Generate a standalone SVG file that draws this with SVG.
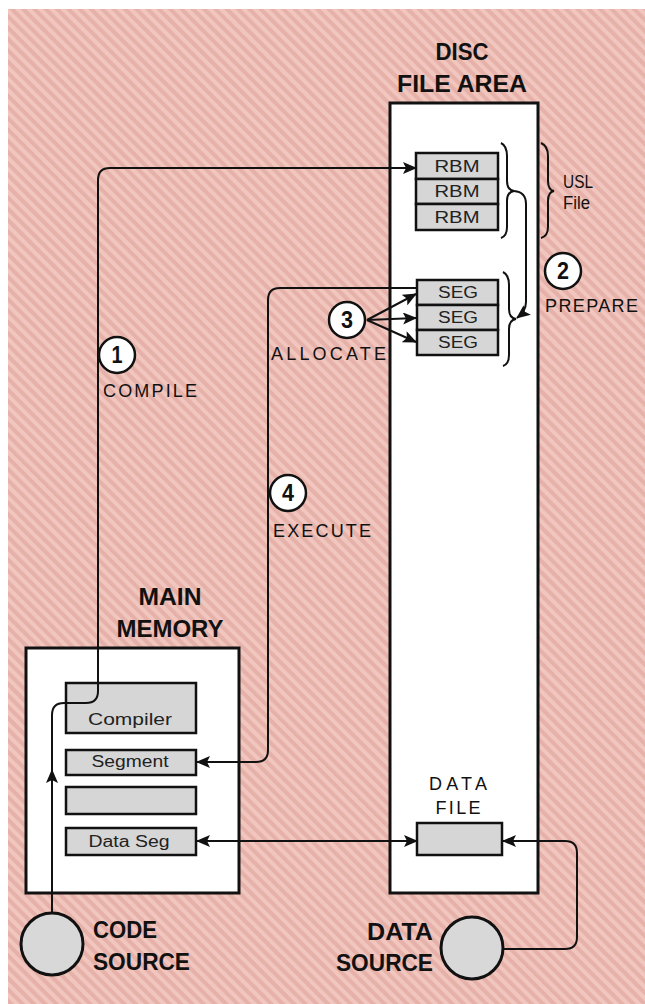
<svg xmlns="http://www.w3.org/2000/svg" width="645" height="1004" viewBox="0 0 645 1004">
<defs>
<pattern id="stripes" width="8" height="8" patternUnits="userSpaceOnUse" patternTransform="rotate(-45)">
<rect width="8" height="8" fill="#f0c6be"/>
<rect width="4" height="8" fill="#e6b1a9"/>
</pattern>
<marker id="arr" markerUnits="userSpaceOnUse" markerWidth="14" markerHeight="12" refX="13" refY="6" orient="auto">
<path d="M0,0 L14,6 L0,12 L3,6 Z" fill="#111"/>
</marker>
<style>
.box{fill:#fff;stroke:#111;stroke-width:3}
.cell{fill:#d6d6d6;stroke:#111;stroke-width:2.5}
.src{fill:#d8d8d8;stroke:#111;stroke-width:3}
.num{fill:#fff;stroke:#111;stroke-width:2.5}
.ln{fill:none;stroke:#111;stroke-width:2}
.title{font-family:"Liberation Sans",Arial,sans-serif;font-weight:bold;font-size:24px;fill:#111}
.lbl{font-family:"Liberation Sans",Arial,sans-serif;font-size:18px;fill:#111}
.cl{font-family:"Liberation Sans",Arial,sans-serif;font-size:16px;fill:#222}
.dg{font-family:"Liberation Sans",Arial,sans-serif;font-weight:bold;font-size:23px;fill:#111}
</style>
</defs>
<rect width="645" height="1004" fill="#fff"/>
<rect x="8" y="9" width="637" height="995" fill="url(#stripes)"/>

<g id="disc-file-area">
<text class="title" x="462" y="60" text-anchor="middle" textLength="53" lengthAdjust="spacingAndGlyphs">DISC</text>
<text class="title" x="462" y="92" text-anchor="middle" textLength="130" lengthAdjust="spacingAndGlyphs">FILE AREA</text>
<rect class="box" x="390" y="103" width="148" height="790"/>
</g>

<g id="rbm">
<rect class="cell" x="416" y="153" width="82" height="26"/>
<rect class="cell" x="416" y="179" width="82" height="25"/>
<rect class="cell" x="416" y="204" width="82" height="26"/>
<text class="cl" x="457" y="172" text-anchor="middle" textLength="45" lengthAdjust="spacingAndGlyphs">RBM</text>
<text class="cl" x="457" y="197" text-anchor="middle" textLength="45" lengthAdjust="spacingAndGlyphs">RBM</text>
<text class="cl" x="457" y="223" text-anchor="middle" textLength="45" lengthAdjust="spacingAndGlyphs">RBM</text>
</g>

<g id="seg">
<rect class="cell" x="417" y="280" width="81" height="25"/>
<rect class="cell" x="417" y="305" width="81" height="25"/>
<rect class="cell" x="417" y="330" width="81" height="25"/>
<text class="cl" x="458" y="298" text-anchor="middle" textLength="40" lengthAdjust="spacingAndGlyphs">SEG</text>
<text class="cl" x="458" y="323" text-anchor="middle" textLength="40" lengthAdjust="spacingAndGlyphs">SEG</text>
<text class="cl" x="458" y="348" text-anchor="middle" textLength="40" lengthAdjust="spacingAndGlyphs">SEG</text>
</g>

<g id="braces">
<path class="ln" d="M501,143 Q507,146 507,156 V181 Q507,190 514,191 Q507,192 507,201 V227 Q507,236 501,238"/>
<path class="ln" d="M503,272 Q509,275 509,285 V309 Q509,318 516,319 Q509,320 509,329 V355 Q509,364 503,366"/>
<path class="ln" d="M541,143 Q548,146 548,156 V181 Q548,190 554,191 Q548,192 548,201 V227 Q548,236 541,238"/>
</g>

<g id="usl-file">
<text class="lbl" x="563" y="188" textLength="30" lengthAdjust="spacingAndGlyphs">USL</text>
<text class="lbl" x="563" y="209" textLength="27" lengthAdjust="spacingAndGlyphs">File</text>
</g>

<g id="data-file">
<text class="lbl" x="458" y="790" text-anchor="middle" textLength="58" lengthAdjust="spacing">DATA</text>
<text class="lbl" x="458" y="814" text-anchor="middle" textLength="45" lengthAdjust="spacing">FILE</text>
<rect class="cell" x="417" y="823" width="85" height="32"/>
</g>

<g id="main-memory">
<text class="title" x="170" y="605" text-anchor="middle" textLength="63" lengthAdjust="spacingAndGlyphs">MAIN</text>
<text class="title" x="170" y="637" text-anchor="middle" textLength="107" lengthAdjust="spacingAndGlyphs">MEMORY</text>
<rect class="box" x="26" y="648" width="213" height="245"/>
<rect class="cell" x="66" y="683" width="130" height="50"/>
<text class="cl" x="130" y="725" text-anchor="middle" textLength="84" lengthAdjust="spacingAndGlyphs">Compiler</text>
<rect class="cell" x="66" y="750" width="130" height="25"/>
<text class="cl" x="130" y="767" text-anchor="middle" textLength="77" lengthAdjust="spacingAndGlyphs">Segment</text>
<rect class="cell" x="66" y="787" width="130" height="27"/>
<rect class="cell" x="66" y="828" width="130" height="27"/>
<text class="cl" x="129" y="847" text-anchor="middle" textLength="81" lengthAdjust="spacingAndGlyphs">Data Seg</text>
</g>

<g id="code-source">
<circle class="src" cx="52" cy="944" r="31"/>
<text class="title" x="93" y="938" textLength="64" lengthAdjust="spacingAndGlyphs">CODE</text>
<text class="title" x="93" y="970" textLength="97" lengthAdjust="spacingAndGlyphs">SOURCE</text>
</g>

<g id="data-source">
<circle class="src" cx="472" cy="948" r="31"/>
<text class="title" x="433" y="940" text-anchor="end" textLength="66" lengthAdjust="spacingAndGlyphs">DATA</text>
<text class="title" x="433" y="971" text-anchor="end" textLength="97" lengthAdjust="spacingAndGlyphs">SOURCE</text>
</g>

<g id="connectors">
<path class="ln" d="M52,913 V715 Q52,703 64,703 H86 Q98,703 98,691 V180 Q98,168 110,168 H416" marker-end="url(#arr)"/>
<path class="ln" d="M52,792 V770" marker-end="url(#arr)"/>
<path class="ln" d="M417,288 H280 Q268,288 268,300 V750 Q268,762 256,762 H197" marker-end="url(#arr)"/>
<path class="ln" d="M367,320 L416,294" marker-end="url(#arr)"/>
<path class="ln" d="M367,320 L416,318" marker-end="url(#arr)"/>
<path class="ln" d="M367,320 L416,342" marker-end="url(#arr)"/>
<path class="ln" d="M514,191 Q526,192 526,204 V302 Q526,311 517,318" marker-end="url(#arr)"/>
<path class="ln" d="M300,841 H197" marker-end="url(#arr)"/>
<path class="ln" d="M300,841 H417" marker-end="url(#arr)"/>
<path class="ln" d="M503,949 H565 Q577,949 577,937 V853 Q577,841 565,841 H503" marker-end="url(#arr)"/>
</g>

<g id="step-1">
<circle class="num" cx="117" cy="355" r="18"/>
<text class="dg" x="117" y="363" text-anchor="middle" textLength="11" lengthAdjust="spacingAndGlyphs">1</text>
<text class="lbl" x="103" y="397" textLength="94" lengthAdjust="spacing">COMPILE</text>
</g>
<g id="step-2">
<circle class="num" cx="563" cy="271" r="18"/>
<text class="dg" x="563" y="279" text-anchor="middle" textLength="12" lengthAdjust="spacingAndGlyphs">2</text>
<text class="lbl" x="545" y="312" textLength="93" lengthAdjust="spacing">PREPARE</text>
</g>
<g id="step-3">
<circle class="num" cx="347" cy="320" r="18"/>
<text class="dg" x="347" y="328" text-anchor="middle" textLength="12" lengthAdjust="spacingAndGlyphs">3</text>
<text class="lbl" x="271" y="360" textLength="115" lengthAdjust="spacing">ALLOCATE</text>
</g>
<g id="step-4">
<circle class="num" cx="288" cy="493" r="18"/>
<text class="dg" x="288" y="501" text-anchor="middle" textLength="12" lengthAdjust="spacingAndGlyphs">4</text>
<text class="lbl" x="273" y="537" textLength="98" lengthAdjust="spacing">EXECUTE</text>
</g>
</svg>
